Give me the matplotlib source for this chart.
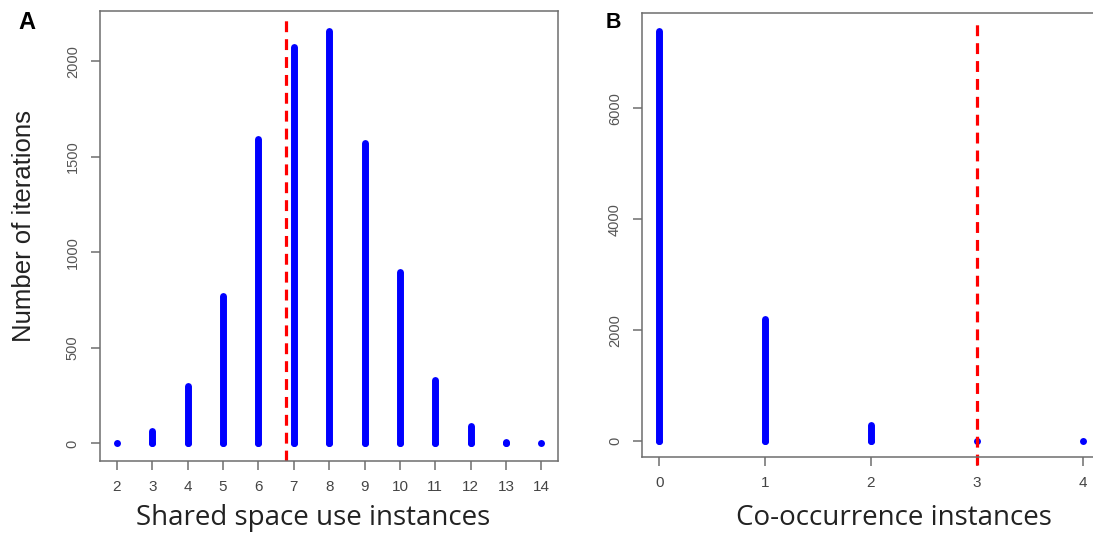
import matplotlib

matplotlib.use("Agg")

import matplotlib.pyplot as plt

# panel A: shared space use
shared_instances = [2, 3, 4, 5, 6, 7, 8, 9, 10, 11, 12, 13, 14]
shared_counts = [2, 66, 302, 770, 1591, 2071, 2159, 1570, 898, 332, 89, 9, 1]
shared_observed = 6.78
shared_yticks = [0, 500, 1000, 1500, 2000]

# panel B: co-occurrence
cooc_instances = [0, 1, 2, 3, 4]
cooc_counts = [7400, 2195, 295, 2, 1]
cooc_observed = 3
cooc_yticks = [0, 2000, 4000, 6000]

BLUE = "#0000ff"
RED = "#ff0000"
AXIS_GREY = "#6e6e6e"

plt.rcParams["font.family"] = ["Liberation Sans", "DejaVu Sans"]

fig = plt.figure(figsize=(10.93, 5.33), dpi=100)
ax_a = fig.add_axes([0.0915, 0.1351, 0.4193, 0.8443])
ax_b = fig.add_axes([0.5876, 0.1420, 0.4184, 0.8330])


def style_axes(ax):
    for spine in ax.spines.values():
        spine.set_color(AXIS_GREY)
        spine.set_linewidth(1.1)
    ax.tick_params(axis="both", direction="out", length=6.5, width=1.1, color=AXIS_GREY)
    ax.tick_params(axis="x", labelsize=11, labelcolor="#444444", pad=7)
    ax.tick_params(axis="y", labelsize=10.5, labelcolor="#555555", pad=8)
    for label in ax.get_yticklabels():
        label.set_rotation(90)
        label.set_verticalalignment("center")


def draw_spikes(ax, xs, ys):
    lines = ax.vlines(xs, 0, ys, colors=BLUE, linewidth=5)
    lines.set_capstyle("round")
    # R's type="h" leaves a dot even for tiny counts
    ax.plot(xs, [0] * len(xs), "o", ms=5, mew=0, color=BLUE)


# panel A
draw_spikes(ax_a, shared_instances, shared_counts)
ax_a.axvline(shared_observed, ymin=0, ymax=0.979, color=RED, linewidth=2.3,
             linestyle=(0, (3.4, 2.2)))
ax_a.set_xlim(1.52, 14.48)
ax_a.set_ylim(-92, 2262)
ax_a.set_xticks(shared_instances)
ax_a.set_yticks(shared_yticks)
style_axes(ax_a)
ax_a.text(0.465, -0.1267, "Shared space use instances", transform=ax_a.transAxes,
          ha="center", va="center", fontsize=20, family=["Open Sans", "DejaVu Sans"],
          color="#222222")
ax_a.text(-0.165, 0.522, "Number of iterations", transform=ax_a.transAxes,
          ha="center", va="center", rotation=90, fontsize=18.5,
          family=["Liberation Sans Narrow", "Liberation Sans"], color="#222222")

# panel B
draw_spikes(ax_b, cooc_instances, cooc_counts)
ax_b.axvline(cooc_observed, ymin=-0.017, ymax=0.984, color=RED, linewidth=2.3,
             linestyle=(0, (3.4, 2.2)), clip_on=False)
ax_b.set_xlim(-0.16, 4.16)
ax_b.set_ylim(-294, 7713)
ax_b.set_xticks(cooc_instances)
ax_b.set_yticks(cooc_yticks)
style_axes(ax_b)
ax_b.text(0.550, -0.1367, "Co-occurrence instances", transform=ax_b.transAxes,
          ha="center", va="center", fontsize=20, family=["Open Sans", "DejaVu Sans"],
          color="#222222")

fig.text(0.0247, 0.9587, "A", ha="center", va="center", fontsize=17, fontweight="bold")
fig.text(0.5613, 0.9578, "B", ha="center", va="center", fontsize=15.5, fontweight="bold")

fig.savefig("out.png", dpi=100)
plt.close(fig)
